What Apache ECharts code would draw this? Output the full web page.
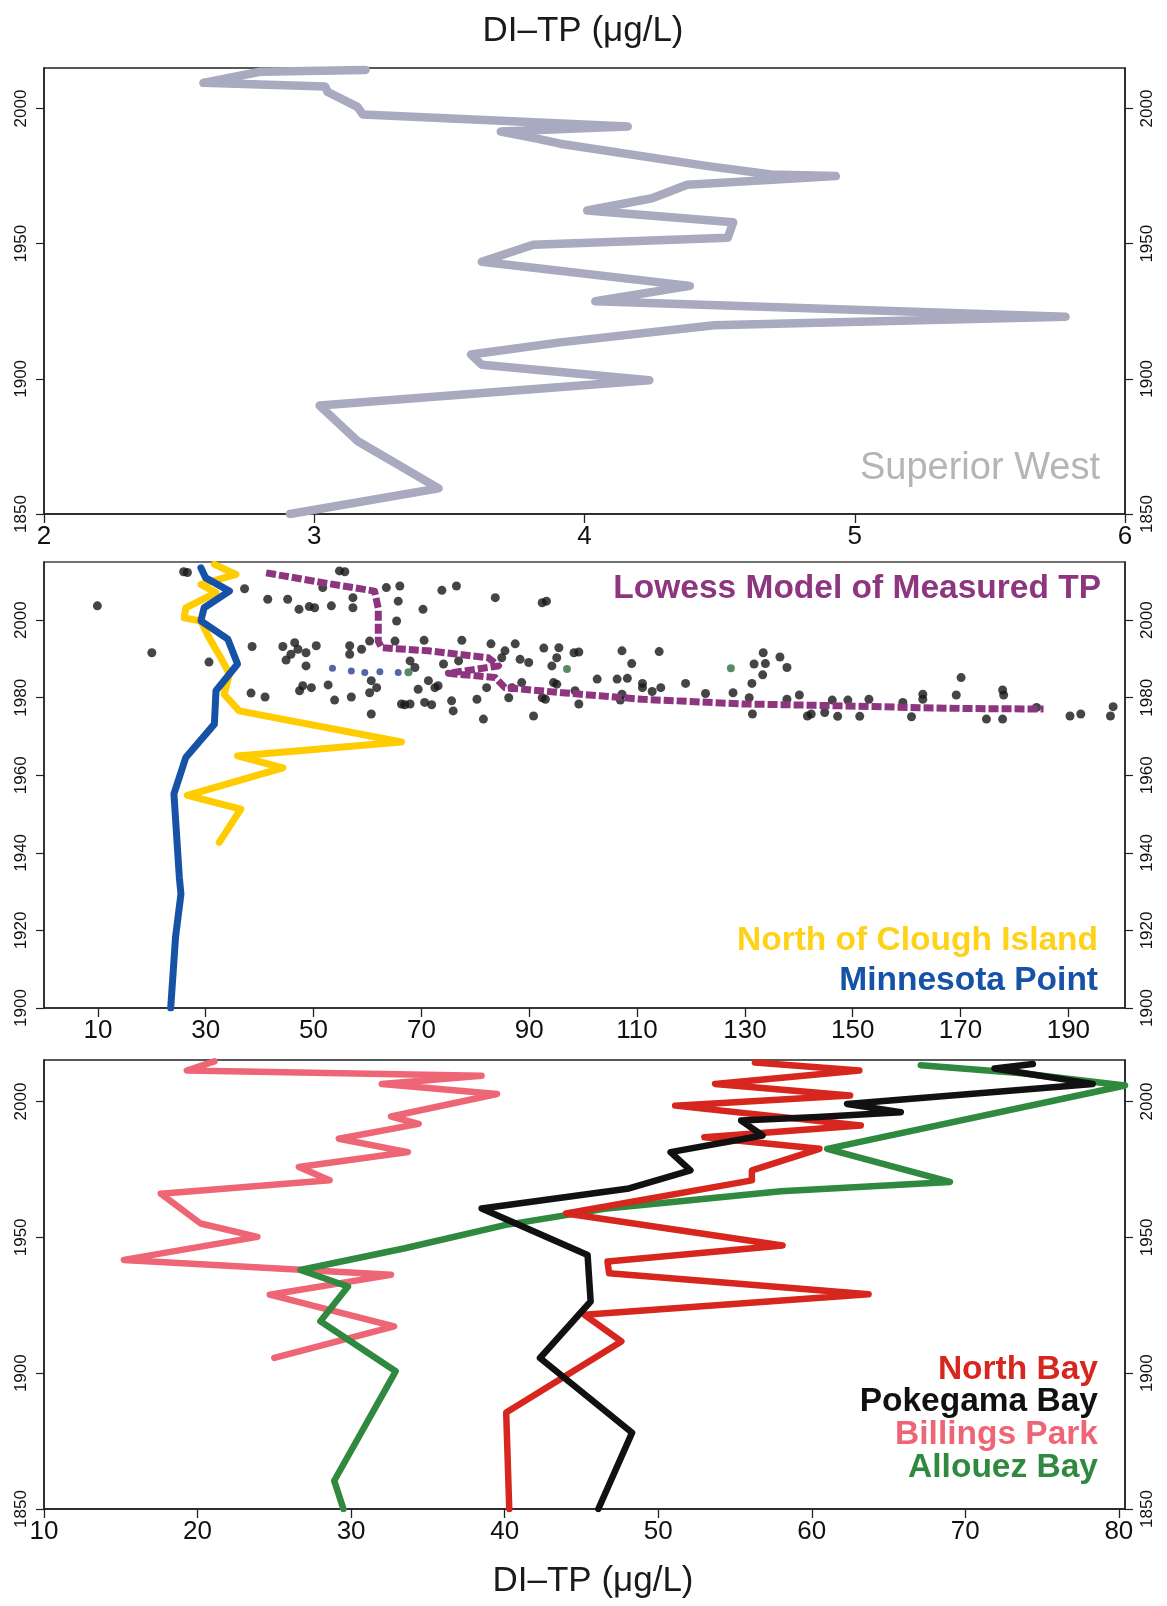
<!DOCTYPE html>
<html>
<head>
<meta charset="utf-8">
<script src="https://cdn.jsdelivr.net/npm/echarts@6/dist/echarts.min.js"></script>
<style>
    html, body { margin: 0; padding: 0; background: #fff; }
    #chart { width: 1167px; height: 1606px; }
</style>
</head>
<body>
<div id="chart"></div>
<script>
var FONT = '"Liberation Sans", Arial, sans-serif';

// ---- top panel: Superior West, [DI-TP, year]
var superiorWest = [
    [3.19, 2014.3], [2.80, 2013.6], [2.59, 2009.5], [3.04, 2008.2], [3.05, 2006.1],
    [3.16, 2000.6], [3.18, 1997.8], [4.16, 1993.4], [3.69, 1991.5], [3.82, 1989.0],
    [3.91, 1987.0], [4.45, 1978.8], [4.69, 1975.6], [4.93, 1975.0], [4.38, 1971.8],
    [4.25, 1966.8], [4.01, 1962.3], [4.55, 1957.9], [4.53, 1952.2], [3.81, 1949.6],
    [3.62, 1943.3], [4.39, 1934.4], [4.04, 1928.7], [5.78, 1923.0], [4.48, 1919.8],
    [3.91, 1913.5], [3.58, 1909.0], [3.62, 1905.2], [4.24, 1899.5], [3.02, 1890.1],
    [3.16, 1877.0], [3.46, 1859.5], [2.91, 1850.0]
];

// ---- middle panel
var cloughIsland = [
    [31.6, 2014.4], [35.6, 2011.8], [29.1, 2009.2], [31.9, 2007.1], [26.3, 2003.2],
    [26.0, 2000.6], [29.1, 1999.8], [30.6, 1995.5], [32.8, 1990.3], [34.4, 1986.1],
    [33.4, 1980.9], [36.2, 1976.6], [66.3, 1968.6], [35.9, 1965.0], [44.3, 1961.9],
    [26.6, 1954.8], [36.5, 1951.3], [32.5, 1942.7]
];
var minnesotaPoint = [
    [29.1, 2013.5], [30.0, 2010.9], [34.4, 2007.5], [29.7, 2003.2], [29.1, 1999.8],
    [34.1, 1995.1], [35.9, 1988.7], [31.9, 1981.8], [31.6, 1973.2], [26.3, 1964.6],
    [24.1, 1955.2], [25.1, 1933.7], [25.4, 1929.4], [24.4, 1918.3], [23.5, 1900.0]
];
var lowessTP = [
    [41.2, 2012.2], [52.0, 2009.6], [61.3, 2007.5], [62.0, 2003.0], [62.0, 1994.6],
    [62.6, 1992.9], [71.3, 1992.1], [82.4, 1990.3], [84.3, 1988.2], [75.0, 1986.3],
    [83.7, 1985.2], [85.5, 1982.6], [96.1, 1981.3], [111.0, 1979.6], [129.6, 1978.4],
    [148.2, 1977.9], [160.6, 1977.5], [172.0, 1977.2], [185.4, 1977.1]
];
var measuredTP = [
    [9.9, 2003.7], [20.0, 1991.6], [25.9, 2012.5], [26.6, 2012.3], [30.6, 1989.2],
    [37.2, 2008.1], [38.6, 1993.2], [38.4, 1981.2], [41.0, 1980.2], [41.5, 2005.4],
    [45.2, 2005.4], [47.3, 2002.8], [49.2, 2003.5], [50.2, 2003.2], [53.3, 2003.7],
    [57.3, 2005.8], [57.3, 2003.2], [54.8, 2012.7], [55.8, 2012.5], [51.7, 2008.4],
    [63.5, 2008.4], [66.0, 2008.8], [65.7, 2004.9], [65.4, 1999.8], [44.3, 1993.2],
    [46.5, 1994.2], [45.8, 1991.2], [47.1, 1992.5], [48.6, 1991.6], [50.5, 1993.4],
    [44.9, 1989.7], [48.6, 1988.2], [48.0, 1983.1], [49.6, 1982.6], [47.4, 1981.8],
    [52.7, 1983.3], [53.9, 1979.4], [57.0, 1980.2], [56.7, 1993.4], [56.7, 1991.2],
    [58.9, 1992.5], [60.4, 1994.6], [60.7, 1984.4], [61.7, 1982.6], [60.4, 1981.3],
    [60.7, 1975.8], [66.3, 1978.4], [67.9, 1978.4], [65.1, 1994.6],
    [83.7, 2005.8], [92.4, 2004.5], [93.2, 2004.9], [76.5, 2008.8], [73.8, 2007.7],
    [70.3, 2002.8], [70.5, 1994.8], [77.5, 1994.8], [82.9, 1993.9], [87.4, 1993.9],
    [92.7, 1992.8], [95.5, 1992.9], [95.1, 1990.3], [76.9, 1989.5], [74.1, 1988.7],
    [85.5, 1992.1], [84.9, 1990.3], [88.3, 1989.9], [89.9, 1989.1], [94.2, 1988.2],
    [67.9, 1989.5], [68.8, 1987.8], [69.4, 1982.2], [71.3, 1984.4], [73.1, 1983.1],
    [72.5, 1982.6], [66.9, 1978.2], [71.9, 1978.2], [70.6, 1978.8], [75.6, 1979.2],
    [75.9, 1976.6], [80.3, 1979.6], [81.5, 1974.5], [86.2, 1980.0], [90.8, 1975.3],
    [92.4, 1980.0], [82.1, 1982.6], [86.8, 1982.6], [88.6, 1983.9], [94.5, 1983.9],
    [98.3, 1991.6], [99.2, 1991.8], [95.1, 1983.5], [98.5, 1981.8], [99.2, 1978.4],
    [93.0, 1979.6], [107.2, 1992.1], [109.0, 1988.8], [114.1, 1991.9], [102.6, 1984.8],
    [106.3, 1984.8], [108.2, 1985.0], [111.0, 1983.7], [111.0, 1982.6], [112.8, 1981.6],
    [114.4, 1982.6], [107.2, 1980.9], [106.9, 1979.4], [119.0, 1983.7], [122.7, 1981.1],
    [127.8, 1981.3], [130.8, 1980.0], [131.3, 1983.7], [131.4, 1975.8], [131.7, 1988.7],
    [133.4, 1991.6], [133.8, 1988.8], [133.3, 1985.9], [136.5, 1990.5], [137.8, 1987.8],
    [137.8, 1979.6], [140.1, 1980.7], [141.6, 1975.3], [142.3, 1975.8], [144.8, 1976.2],
    [146.2, 1979.4], [147.2, 1975.2], [149.1, 1979.4], [151.3, 1975.2], [153.0, 1979.6],
    [159.3, 1978.8], [160.9, 1975.1], [163.0, 1980.9], [163.0, 1979.6], [170.1, 1985.2],
    [169.2, 1980.7], [174.8, 1974.5], [177.8, 1982.0], [178.0, 1980.7], [177.8, 1974.5],
    [184.1, 1977.5], [190.3, 1975.3], [192.3, 1975.8], [197.8, 1975.3], [198.3, 1977.7]
];
var measuredTPBlue = [[53.5, 1987.6], [57.0, 1986.9], [59.5, 1986.5], [62.3, 1986.7], [65.7, 1986.5]];
var measuredTPGreen = [[67.6, 1986.6], [97.0, 1987.4], [127.4, 1987.6]];

// ---- bottom panel
var northBay = [
    [56.3, 2014.4], [63.1, 2011.4], [53.7, 2006.5], [62.5, 2002.2], [51.1, 1998.5],
    [63.2, 1991.2], [53.0, 1986.9], [60.5, 1982.6], [56.1, 1974.7], [56.1, 1971.0],
    [44.0, 1958.8], [58.1, 1947.0], [46.7, 1941.1], [46.8, 1936.8], [63.7, 1929.1],
    [45.2, 1921.5], [47.6, 1911.7], [40.1, 1885.5], [40.3, 1850.0]
];
var pokegamaBay = [
    [74.4, 2013.8], [71.9, 2012.2], [78.3, 2006.5], [62.3, 1999.1], [65.8, 1996.1],
    [60.4, 1994.3], [55.4, 1993.0], [56.8, 1987.5], [50.8, 1981.4], [52.1, 1974.7],
    [48.1, 1968.0], [38.5, 1960.6], [45.4, 1943.5], [45.6, 1926.4], [42.3, 1905.6],
    [48.3, 1878.1], [46.1, 1850.0]
];
var billingsPark = [
    [21.1, 2014.8], [19.3, 2011.4], [38.5, 2009.5], [32.0, 2006.5], [39.5, 2002.8],
    [32.6, 1994.5], [34.4, 1991.8], [29.2, 1986.3], [33.7, 1981.4], [26.6, 1975.9],
    [28.6, 1971.0], [17.6, 1966.1], [20.2, 1955.1], [23.9, 1950.2], [15.2, 1941.7],
    [32.6, 1936.2], [24.7, 1928.9], [32.8, 1917.2], [25.0, 1905.6]
];
var allouezBay = [
    [67.1, 2013.4], [73.5, 2010.5], [80.4, 2005.9], [61.0, 1982.6], [69.0, 1970.4],
    [58.0, 1967.0], [46.5, 1960.5], [40.0, 1954.5], [33.5, 1946.0], [26.7, 1938.0],
    [29.8, 1931.9], [28.0, 1919.1], [32.9, 1900.7], [28.9, 1860.4], [29.5, 1850.0]
];

// tick labels
var topXTicks = [2, 3, 4, 5, 6];
var midXTicks = [10, 30, 50, 70, 90, 110, 130, 150, 170, 190];
var botXTicks = [10, 20, 30, 40, 50, 60, 70, 80];
var yearTicks50 = [1850, 1900, 1950, 2000];
var yearTicks20 = [1900, 1920, 1940, 1960, 1980, 2000];

var chart = echarts.init(document.getElementById('chart'));

function makeX(gi, min, max, ticks) {
    return {
        type: 'value', gridIndex: gi, min: min, max: max,
        axisLine: { show: true, onZero: false, lineStyle: { color: '#222', width: 1.5 } },
        axisTick: { show: true, length: 9, customValues: ticks, lineStyle: { color: '#222', width: 1.3 } },
        axisLabel: { customValues: ticks, fontSize: 26, color: '#111', margin: 10, fontFamily: FONT },
        splitLine: { show: false }
    };
}

function makeY(gi, pos, min, max, ticks) {
    return {
        type: 'value', gridIndex: gi, position: pos, min: min, max: max,
        axisLine: { show: true, onZero: false, lineStyle: { color: '#222', width: 1.5 } },
        axisTick: { show: true, length: 8, customValues: ticks, lineStyle: { color: '#222', width: 1.2 } },
        axisLabel: {
            customValues: ticks, rotate: 90, fontSize: 17, color: '#111', margin: 14, fontFamily: FONT,
            formatter: function (v) { return String(v); }
        },
        splitLine: { show: false }
    };
}

function lineSeries(name, data, color, width, xi, yi) {
    return {
        name: name, type: 'line', data: data, xAxisIndex: xi, yAxisIndex: yi,
        showSymbol: false, symbol: 'none', silent: true,
        lineStyle: { color: color, width: width, join: 'round', cap: 'round' }
    };
}

function label(text, x, y, color, size, weight, align) {
    return {
        type: 'text', x: x, y: y, silent: true,
        style: {
            text: text, fill: color, fontSize: size, fontWeight: weight || 'normal',
            fontFamily: FONT, align: align || 'right', verticalAlign: 'middle'
        }
    };
}

var option = {
    backgroundColor: '#fff',
    animation: false,
    grid: [
        { left: 44, right: 42, top: 68, height: 446, show: true, borderColor: '#222', borderWidth: 1.5 },
        { left: 44, right: 42, top: 562, height: 446, show: true, borderColor: '#444', borderWidth: 1.5 },
        { left: 44, right: 42, top: 1060, height: 449, show: true, borderColor: '#222', borderWidth: 1.5 }
    ],
    xAxis: [
        makeX(0, 2, 6, topXTicks),
        makeX(1, 0, 200.5, midXTicks),
        makeX(2, 10, 80.4, botXTicks)
    ],
    yAxis: [
        makeY(0, 'left', 1850, 2015, yearTicks50),
        makeY(0, 'right', 1850, 2015, yearTicks50),
        makeY(1, 'left', 1900, 2015, yearTicks20),
        makeY(1, 'right', 1900, 2015, yearTicks20),
        makeY(2, 'left', 1850, 2015.3, yearTicks50),
        makeY(2, 'right', 1850, 2015.3, yearTicks50)
    ],
    series: [
        lineSeries('Superior West', superiorWest, '#a9a9bf', 8.5, 0, 0),

        {
            name: 'Measured TP', type: 'scatter', data: measuredTP, xAxisIndex: 1, yAxisIndex: 2,
            symbolSize: 9, itemStyle: { color: '#161618' }, silent: true, z: 2
        },
        {
            name: 'Measured TP (MP)', type: 'scatter', data: measuredTPBlue, xAxisIndex: 1, yAxisIndex: 2,
            symbolSize: 7, itemStyle: { color: '#2b3f95' }, silent: true, z: 2
        },
        {
            name: 'Measured TP (other)', type: 'scatter', data: measuredTPGreen, xAxisIndex: 1, yAxisIndex: 2,
            symbolSize: 8, itemStyle: { color: '#2e6e3e' }, silent: true, z: 2
        },
        {
            name: 'Lowess Model of Measured TP', type: 'line', data: lowessTP, xAxisIndex: 1, yAxisIndex: 2,
            symbol: 'none', silent: true, z: 4,
            lineStyle: { color: '#8e3580', width: 7, type: [10, 3], cap: 'butt', join: 'round' }
        },
        lineSeries('North of Clough Island', cloughIsland, '#ffcc00', 7, 1, 2),
        lineSeries('Minnesota Point', minnesotaPoint, '#1652a6', 7, 1, 2),

        lineSeries('Billings Park', billingsPark, '#ee6676', 6.5, 2, 4),
        lineSeries('Allouez Bay', allouezBay, '#2f8a3f', 6.5, 2, 4),
        lineSeries('North Bay', northBay, '#d7261e', 6.5, 2, 4),
        lineSeries('Pokegama Bay', pokegamaBay, '#111111', 6.5, 2, 4)
    ],
    graphic: [
        label('DI\u2013TP (\u03bcg/L)', 583, 31, '#1a1a1a', 35, 'normal', 'center'),
        label('DI\u2013TP (\u03bcg/L)', 593, 1581, '#1a1a1a', 35, 'normal', 'center'),
        label('Superior West', 1100, 469, '#b5b5b5', 38),
        label('Lowess Model of Measured TP', 1101, 589, '#8e3580', 33.5, 'bold'),
        label('North of Clough Island', 1098, 941, '#ffd21a', 33.5, 'bold'),
        label('Minnesota Point', 1098, 981, '#1652a6', 33.5, 'bold'),
        label('North Bay', 1098, 1370, '#d7261e', 33.5, 'bold'),
        label('Pokegama Bay', 1098, 1402, '#111111', 33.5, 'bold'),
        label('Billings Park', 1098, 1435, '#ee6676', 33.5, 'bold'),
        label('Allouez Bay', 1098, 1468, '#2f8a3f', 33.5, 'bold')
    ]
};

chart.setOption(option);
</script>
</body>
</html>
